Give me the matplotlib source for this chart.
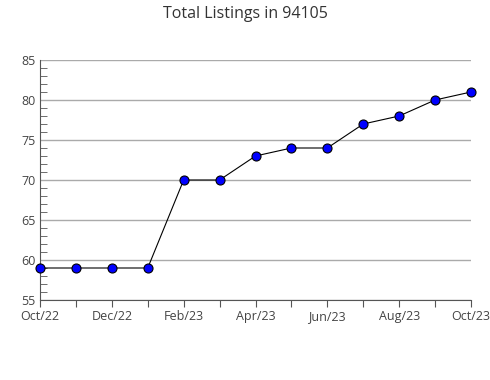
import matplotlib
matplotlib.use("Agg")
import matplotlib.pyplot as plt
from matplotlib.ticker import MultipleLocator

plt.rcParams['font.family'] = ['Open Sans', 'DejaVu Sans']

months = ["Oct/22", "Nov/22", "Dec/22", "Jan/23", "Feb/23", "Mar/23", "Apr/23",
          "May/23", "Jun/23", "Jul/23", "Aug/23", "Sep/23", "Oct/23"]
listings = [59, 59, 59, 59, 70, 70, 73, 74, 74, 77, 78, 80, 81]

fig = plt.figure(figsize=(4.9, 3.8), dpi=100)
ax = fig.add_axes([40/490, 1-300/380, 431/490, 240/380])

x = list(range(len(months)))
ax.plot(x, listings, color="black", lw=0.8, marker="o", ms=6.5,
        mfc="#0000ff", mec="black", mew=0.8, zorder=3, clip_on=False)

ax.set_xlim(0, len(months) - 1)
ax.set_ylim(55, 85)
ax.yaxis.set_major_locator(MultipleLocator(5))
ax.yaxis.set_minor_locator(MultipleLocator(1))
ax.grid(axis="y", which="major", color="#aaaaaa", lw=1)
ax.set_axisbelow(True)

ax.set_xticks(x)
ax.set_xticklabels([m if i % 2 == 0 else "" for i, m in enumerate(months)])

for s in ["top", "right"]:
    ax.spines[s].set_visible(False)
for s in ["left", "bottom"]:
    ax.spines[s].set_color("#555555")

ax.tick_params(axis="y", which="both", direction="in", length=5, color="#555555",
               labelsize=9, labelcolor="#444444", pad=3)
ax.tick_params(axis="y", which="major", length=0)
ax.tick_params(axis="x", direction="out", length=5, color="#555555",
               labelsize=9, labelcolor="#444444", pad=9.5)
for lab in ax.get_xticklabels():
    lab.set_verticalalignment("baseline")

fig.suptitle("Total Listings in 94105", x=0.5, y=0.985, fontsize=11.5, color="#333333")

fig.savefig("out.png", dpi=100)
